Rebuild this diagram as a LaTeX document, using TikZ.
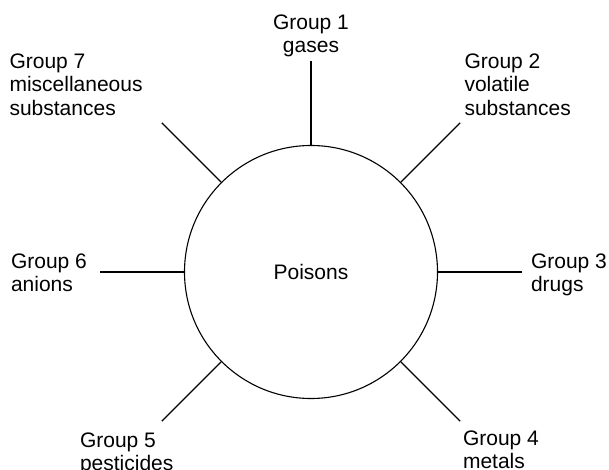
\documentclass[tikz,border=0pt]{standalone}
\usepackage{fontspec}
\setmainfont{Liberation Sans}
\usepackage{tikz}
\usetikzlibrary{positioning}

\begin{document}
\begin{tikzpicture}[
          x = 1pt, y = 1pt, line width = 1.1pt,
          inner sep = 0,
          font = \fontsize{21}{23.5}\selectfont
        ]
          \tikzstyle {hub} = [draw, shape = circle, minimum size = 253pt, fill = white]
          \tikzstyle {group} = [align = left, anchor = north west]
          \useasboundingbox (0,0) rectangle (609,-470);
          % place nodes
          \path node (poisons) [hub] at (311,-272) {Poisons};
          \path node (g1) [align = center, anchor = north] at (311,-14) {Group 1\\gases};
          \path node (g2) [group] at (464,-53) {Group 2\\volatile\\substances};
          \path node (g3) [group] at (530.5,-253) {Group 3\\drugs};
          \path node (g4) [group] at (462.5,-430) {Group 4\\metals};
          \path node (g5) [group] at (79.5,-432) {Group 5\\pesticides};
          \path node (g6) [group] at (10.5,-253) {Group 6\\anions};
          \path node (g7) [group] at (9,-53) {Group 7\\miscellaneous\\substances};
          % place edges
          \foreach \a/\n in {90/1, 45/2, 0/3, -45/4, -135/5, 180/6, 135/7}
            { \path (poisons.\a) ++(\a:84) coordinate (end\n) ;
              \draw (poisons.\a) -- (end\n) ; } ;
        \end{tikzpicture}
\end{document}
